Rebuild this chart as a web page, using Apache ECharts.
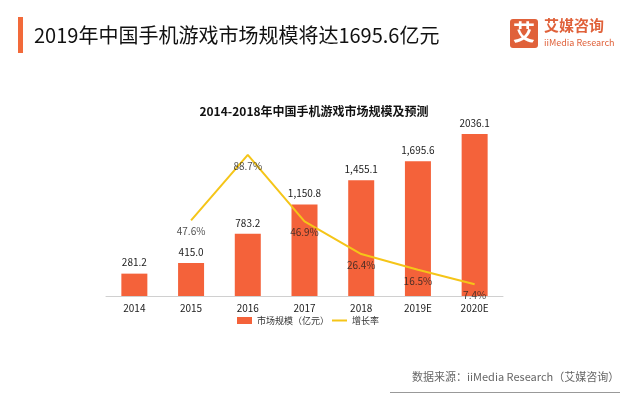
<!DOCTYPE html>
<html>
<head>
<meta charset="utf-8">
<script src="https://cdn.jsdelivr.net/npm/echarts@6/dist/echarts.min.js"></script>
<style>
html,body{margin:0;padding:0;background:#fff;}
#main{width:628px;height:396px;}
</style>
</head>
<body>
<div id="main"></div>
<script>
// data
var years = ['2014', '2015', '2016', '2017', '2018', '2019E', '2020E'];
var marketSize = [281.2, 415.0, 783.2, 1150.8, 1455.1, 1695.6, 2036.1];
var sizeLabels = ['281.2', '415.0', '783.2', '1,150.8', '1,455.1', '1,695.6', '2036.1'];
var growthRate = ['-', 47.6, 88.7, 46.9, 26.4, 16.5, 7.4];

var FONT = '"Noto Sans CJK SC", "Noto Sans", sans-serif';

var chart = echarts.init(document.getElementById('main'));
var option = {
    backgroundColor: '#fff',
    textStyle: { fontFamily: FONT },
    title: [
        {
            text: '2019年中国手机游戏市场规模将达1695.6亿元',
            left: 29, top: 20,
            textStyle: { fontSize: 20, fontWeight: 'normal', color: '#111', fontFamily: FONT }
        },
        {
            text: '2014-2018年中国手机游戏市场规模及预测',
            left: 'center', top: 100,
            textStyle: { fontSize: 12, fontWeight: 'bold', color: '#111', fontFamily: FONT }
        }
    ],
    graphic: [
        { type: 'rect', left: 18, top: 17, shape: { width: 5, height: 36 }, style: { fill: '#F26A3A' } },
        // logo
        { type: 'rect', left: 510, top: 19, shape: { width: 28, height: 29, r: 3 }, style: { fill: '#E0613A' } },
        { type: 'text', left: 513, top: 21, style: { text: '艾', fill: '#fff', font: 'bold 22px ' + FONT } },
        { type: 'text', left: 544, top: 18, style: { text: '艾媒咨询', fill: '#E0613A', font: 'bold 15px ' + FONT } },
        { type: 'text', left: 544, top: 38, style: { text: 'iiMedia Research', fill: '#E0613A', font: '9px ' + FONT } },
        // source
        { type: 'text', left: 412, top: 371, style: { text: '数据来源：iiMedia Research（艾媒咨询）', fill: '#666', font: '11px ' + FONT } },
        { type: 'rect', left: 390, top: 392, shape: { width: 230, height: 1 }, style: { fill: '#999' } }
    ],
    legend: [
        {
            top: 311, left: 232,
            itemWidth: 15, itemHeight: 7, itemGap: 4,
            textStyle: { fontSize: 9, color: '#333', fontFamily: FONT },
            data: [{ name: '市场规模（亿元）', icon: 'rect' }]
        },
        {
            top: 311, left: 327,
            itemWidth: 15, itemHeight: 2,
            textStyle: { fontSize: 9, color: '#333', fontFamily: FONT },
            data: [{ name: '增长率', icon: 'rect' }]
        }
    ],
    grid: { left: 106, right: 125, top: 129, bottom: 100 },
    xAxis: {
        type: 'category',
        data: years,
        axisLine: { lineStyle: { color: '#d0d0d0' } },
        axisTick: { show: false },
        axisLabel: { fontSize: 10, color: '#222', margin: 7 }
    },
    yAxis: [
        { type: 'value', min: 0, max: 2100, show: false, splitLine: { show: false } },
        { type: 'value', min: 0, max: 105, show: false, splitLine: { show: false } }
    ],
    series: [
        {
            name: '市场规模（亿元）',
            type: 'bar',
            data: marketSize,
            barWidth: 26,
            itemStyle: { color: '#F4623A' },
            label: {
                show: true, position: 'top', distance: 6,
                fontSize: 10, color: '#222',
                formatter: function (p) { return sizeLabels[p.dataIndex]; }
            }
        },
        {
            name: '增长率',
            type: 'line',
            yAxisIndex: 1,
            data: growthRate,
            symbol: 'none',
            z: 3,
            lineStyle: { color: '#F5C518', width: 2 },
            itemStyle: { color: '#F5C518' }
        },
        {
            // labels for the growth rate line
            name: '增长率标签',
            type: 'scatter',
            yAxisIndex: 1,
            data: growthRate,
            symbolSize: 0,
            z: 4,
            label: {
                show: true, position: 'bottom', distance: 6,
                fontSize: 10, color: '#222',
                formatter: '{c}%'
            }
        }
    ]
};
chart.setOption(option);
</script>
</body>
</html>
